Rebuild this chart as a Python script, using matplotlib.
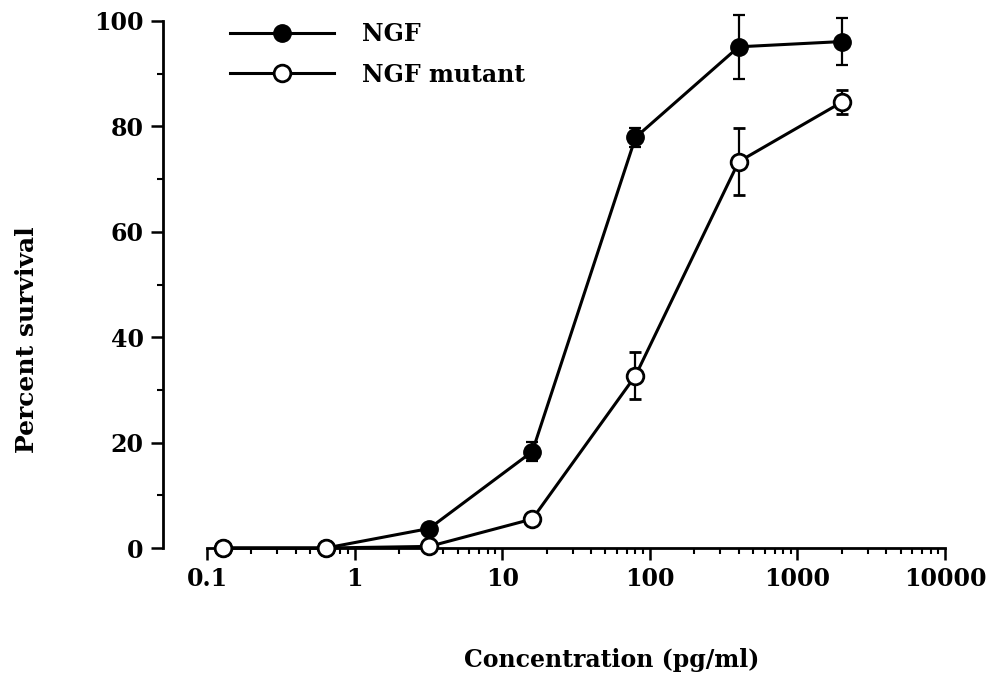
import matplotlib
matplotlib.use("Agg")
import matplotlib.pyplot as plt
from matplotlib.ticker import LogLocator, FixedLocator, NullFormatter
from matplotlib.lines import Line2D

# Data (5-fold dilution series, pg/ml)
conc = [0.128, 0.64, 3.2, 16, 80, 400, 2000]
ngf = [0, 0, 3.7, 18.3, 77.9, 95.1, 96.1]
ngf_err = [0, 0, 0, 1.8, 1.8, 6.1, 4.5]
mut = [0, 0, 0.3, 5.5, 32.7, 73.3, 84.6]
mut_err = [0, 0, 0, 0, 4.4, 6.4, 2.3]
xticks = [0.1, 1, 10, 100, 1000, 10000]
xticklabels = ["0.1", "1", "10", "100", "1000", "10000"]
yticks = [0, 20, 40, 60, 80, 100]

plt.rcParams['font.family'] = ['DejaVu Serif']
plt.rcParams['font.weight'] = 'bold'

fig = plt.figure(figsize=(9.87, 6.82), dpi=100)
W, H = 987, 682
ax = fig.add_axes([207 / W, 1 - 548 / H, (945 - 207) / W, (548 - 21) / H])

ax.set_xscale('log')
ax.set_xlim(0.1, 10000)
ax.set_ylim(0, 100)

lw = 2.2
ax.errorbar(conc, ngf, yerr=ngf_err, color='black', lw=lw, elinewidth=1.6,
            capsize=4, capthick=1.6, marker='o', ms=12.5, mfc='black', mec='black',
            clip_on=False, zorder=3)
ax.errorbar(conc, mut, yerr=mut_err, color='black', lw=lw, elinewidth=1.6,
            capsize=4, capthick=1.6, marker='o', ms=12, mfc='white', mec='black',
            mew=2, clip_on=False, zorder=4)

for s in ['top', 'right']:
    ax.spines[s].set_visible(False)
ax.spines['left'].set_position(('outward', 32))
ax.spines['left'].set_linewidth(2)
ax.spines['bottom'].set_linewidth(2)

ax.xaxis.set_major_locator(FixedLocator(xticks))
ax.set_xticklabels(xticklabels)
ax.xaxis.set_minor_locator(LogLocator(base=10, subs=range(2, 10)))
ax.xaxis.set_minor_formatter(NullFormatter())
ax.set_yticks(yticks)
ax.yaxis.set_minor_locator(FixedLocator([10, 30, 50, 70, 90]))

ax.tick_params(axis='both', which='major', direction='out', length=8.5, width=1.8,
               labelsize=17, pad=5)
ax.tick_params(axis='both', which='minor', direction='out', length=4, width=1.5)
for lab in ax.get_xticklabels() + ax.get_yticklabels():
    lab.set_fontweight('bold')

fig.text(27 / W, 1 - 340 / H, 'Percent survival', rotation=90, ha='center', va='center',
         fontsize=18, fontweight='bold')
fig.text(612 / W, 1 - 660 / H, 'Concentration (pg/ml)', ha='center', va='center',
         fontsize=17, fontweight='bold')

handles = [
    Line2D([], [], color='black', lw=lw, marker='o', ms=12.5, mfc='black', mec='black'),
    Line2D([], [], color='black', lw=lw, marker='o', ms=12, mfc='white', mec='black', mew=2),
]
fig.legend(handles, ['NGF', 'NGF mutant'], loc='upper left',
           bbox_to_anchor=(230 / W, 1 - 22 / H), frameon=False,
           handlelength=4.4, handletextpad=1.2, labelspacing=0.7,
           borderpad=0, borderaxespad=0, prop={'weight': 'bold', 'size': 17})

fig.savefig('out.png', dpi=100)
